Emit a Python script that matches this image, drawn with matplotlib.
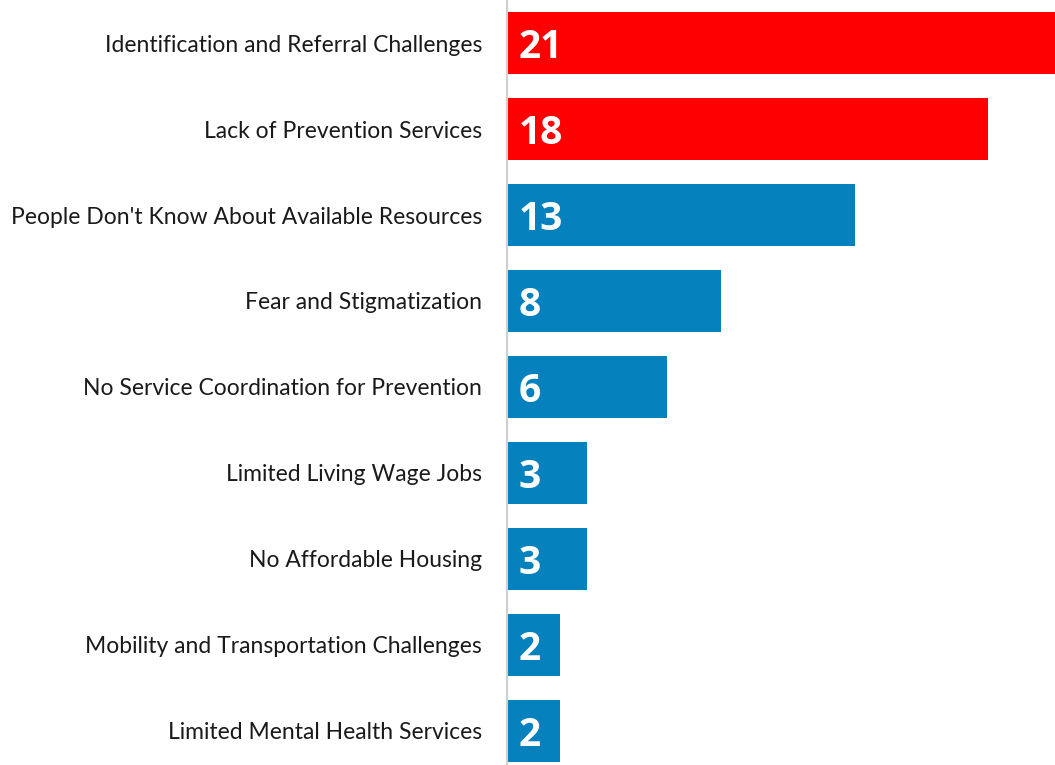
import matplotlib
matplotlib.use("Agg")
import matplotlib.pyplot as plt

categories = [
    "Identification and Referral Challenges",
    "Lack of Prevention Services",
    "People Don't Know About Available Resources",
    "Fear and Stigmatization",
    "No Service Coordination for Prevention",
    "Limited Living Wage Jobs",
    "No Affordable Housing",
    "Mobility and Transportation Challenges",
    "Limited Mental Health Services",
]
counts = [21, 18, 13, 8, 6, 3, 3, 2, 2]
highlight = [True, True, False, False, False, False, False, False, False]

red = "#FF0000"
blue = "#0582BE"

fig = plt.figure(figsize=(10.55, 7.65), dpi=100)
ax = fig.add_axes([507 / 1055, 0, 548 / 1055, 1])

ypos = list(range(len(categories)))
colors = [red if h else blue for h in highlight]
ax.barh(ypos, counts, height=0.71, color=colors)

for y, v in zip(ypos, counts):
    ax.annotate(str(v), xy=(0, y), xytext=(8.5, -3), textcoords="offset points",
                ha="left", va="center", color="white", fontsize=28,
                fontweight="bold", family="Open Sans")

ax.set_xlim(0, 20.5)
ax.set_ylim(-0.5 + 765 / 86, -0.5)
ax.set_yticks(ypos)
ax.set_yticklabels(categories, family="Lato", fontsize=16.5, color="#1a1a1a")
ax.tick_params(axis="y", length=0, pad=18)
ax.set_xticks([])
for s in ["top", "right", "bottom"]:
    ax.spines[s].set_visible(False)
ax.spines["left"].set_color("#d0d0d0")
ax.spines["left"].set_linewidth(1.5)

fig.savefig("out.png", dpi=100)
